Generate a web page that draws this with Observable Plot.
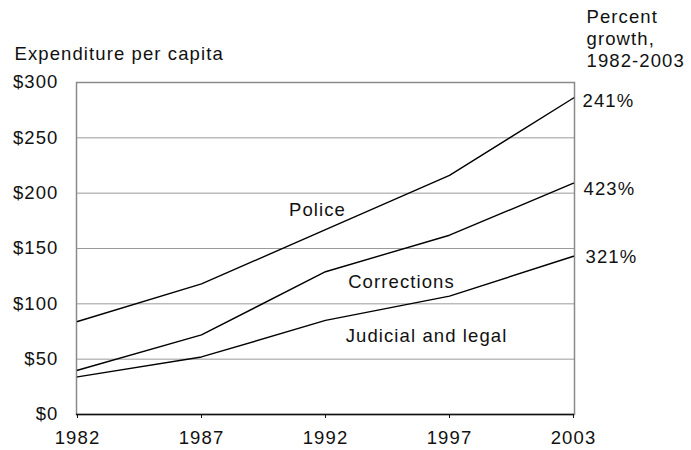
<!DOCTYPE html>
<html>
<head>
<meta charset="utf-8">
<script src="https://cdn.jsdelivr.net/npm/d3@7"></script>
<script src="https://cdn.jsdelivr.net/npm/@observablehq/plot@0.6"></script>
<style>
  body { margin: 0; background: #fff; }
  #chart svg text { letter-spacing: 1.1px; }
</style>
</head>
<body>
<div id="chart"></div>
<script>
const years = ["1982", "1987", "1992", "1997", "2003"];
const police = [84, 118, 167, 216, 286];
const corrections = [40, 72, 129, 162, 209];
const judicial = [34, 52, 85, 107, 143];
const seriesNames = ["Police", "Corrections", "Judicial and legal"];
const growthLabels = ["241%", "423%", "321%"];
const yTicks = [0, 50, 100, 150, 200, 250, 300];

const seriesValues = [police, corrections, judicial];
const rows = [];
seriesNames.forEach((s, i) => years.forEach((yr, j) => rows.push({series: s, year: yr, value: seriesValues[i][j]})));
const ends = seriesNames.map((s, i) => ({series: s, year: years[years.length - 1], value: seriesValues[i][years.length - 1], label: growthLabels[i]}));

// in-chart labels anchored at data positions
const inLabels = [
  {text: "Police", year: "1992", value: 185},
  {text: "Corrections", year: "1992", value: 120},
  {text: "Judicial and legal", year: "1997", value: 71}
];

const FS = 18.5;
const textOpts = {fill: "#111", fontSize: FS};

const plot = Plot.plot({
  width: 691,
  height: 450,
  marginLeft: 76,
  marginRight: 117,
  marginTop: 82,
  marginBottom: 36,
  style: {fontFamily: "Liberation Sans, Arial, sans-serif", fontSize: FS + "px", color: "#111", background: "#fff"},
  x: {type: "point", domain: years, padding: 0, label: null},
  y: {domain: [0, 300], ticks: yTicks, label: null, tickSize: 0, tickPadding: 18, tickFormat: d => "$" + d},
  marks: [
    Plot.gridY(yTicks.slice(1, -1), {stroke: "#9a9a9a", strokeOpacity: 1, strokeWidth: 1}),
    Plot.frame({stroke: "#8a8a8a", strokeWidth: 1.5}),
    Plot.ruleY([0], {stroke: "#111", strokeWidth: 1.5}),
    Plot.lineY(rows, {x: "year", y: "value", z: "series", stroke: "#000", strokeWidth: 1.4}),
    Plot.text(ends.slice(0, 1), {x: "year", y: "value", text: "label", textAnchor: "start", dx: 9, dy: 3, ...textOpts}),
    Plot.text(ends.slice(1, 2), {x: "year", y: "value", text: "label", textAnchor: "start", dx: 10, dy: 6, ...textOpts}),
    Plot.text(ends.slice(2, 3), {x: "year", y: "value", text: "label", textAnchor: "start", dx: 12, dy: 1, ...textOpts}),
    Plot.text(inLabels.slice(0, 1), {x: "year", y: "value", text: "text", dx: -8, ...textOpts}),
    Plot.text(inLabels.slice(1, 2), {x: "year", y: "value", text: "text", dx: 76, ...textOpts}),
    Plot.text(inLabels.slice(2, 3), {x: "year", y: "value", text: "text", dx: -23, ...textOpts}),
    Plot.text(["Expenditure per capita"], {frameAnchor: "top-left", text: d => d, dx: -62, dy: -36, textAnchor: "start", ...textOpts}),
    Plot.text(["Percent\ngrowth,\n1982-2003"], {frameAnchor: "top-right", text: d => d, dx: 12, dy: -75, textAnchor: "start", lineHeight: 1.19, ...textOpts}),
    Plot.axisX({tickSize: 4, tickPadding: 12, stroke: "#111"})
  ]
});
document.getElementById("chart").appendChild(plot);
</script>
</body>
</html>
